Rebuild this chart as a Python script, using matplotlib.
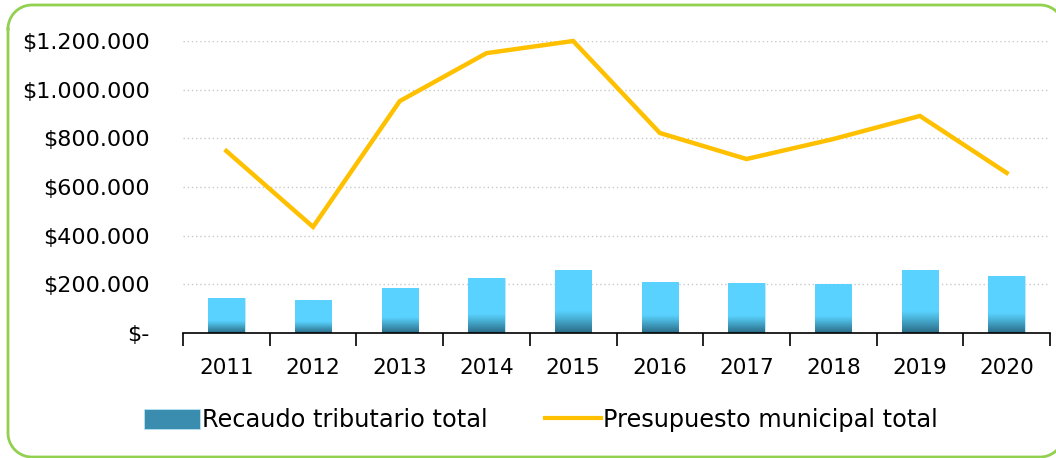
import matplotlib
matplotlib.use("Agg")
import matplotlib.pyplot as plt
import numpy as np
from matplotlib.patches import Patch
from matplotlib.lines import Line2D
from matplotlib.colors import LinearSegmentedColormap
from matplotlib.ticker import FuncFormatter

years = ["2011", "2012", "2013", "2014", "2015", "2016", "2017", "2018", "2019", "2020"]
recaudo = [144000, 135000, 185000, 226000, 259000, 210000, 205000, 200000, 258000, 233000]
presupuesto = [748000, 436000, 953000, 1150000, 1200000, 822000, 715000, 797000, 892000, 658000]
yticks = [0, 200000, 400000, 600000, 800000, 1000000, 1200000]

plt.rcParams['font.family'] = ['DejaVu Sans']
W, H = 1056, 458
fig = plt.figure(figsize=(W / 100, H / 100), dpi=100)

# rounded green border, drawn in a pixel-coordinate overlay axes (y downwards)
bg = fig.add_axes([0, 0, 1, 1], zorder=-1)
bg.set_xlim(0, W)
bg.set_ylim(H, 0)
bg.axis("off")
L, T, R, B, rad = 8, 5, 1064, 457, 24
def corner(cx, cy, a0, a1):
    t = np.linspace(np.radians(a0), np.radians(a1), 30)
    return cx + rad * np.cos(t), cy + rad * np.sin(t)
pts = [corner(L + rad, T + rad, 180, 270), corner(R - rad, T + rad, 270, 360),
       corner(R - rad, B - rad, 0, 90), corner(L + rad, B - rad, 90, 180)]
bx = np.concatenate([p[0] for p in pts] + [pts[0][0][:1]])
by = np.concatenate([p[1] for p in pts] + [pts[0][1][:1]])
bg.plot(bx, by, color="#92D050", linewidth=2, clip_on=False)

ax = fig.add_axes([183 / W, 1 - 333 / H, 867 / W, 292 / H])
x = np.arange(len(years))
bars = ax.bar(x, recaudo, width=0.42, color="#5AD2FF", edgecolor="#BDEBFA", linewidth=0.6, zorder=2)

cmap = LinearSegmentedColormap.from_list("g", [(0, "#2A6A86"), (0.25, "#4CB8DE"), (0.35, "#5AD2FF"), (1, "#5AD2FF")])
grad = np.linspace(0, 1, 256).reshape(-1, 1)
for b in bars:
    x0, y0, w, h = b.get_x(), b.get_y(), b.get_width(), b.get_height()
    im = ax.imshow(grad, cmap=cmap, origin="lower", aspect="auto",
                   extent=[x0, x0 + w, y0, y0 + h], zorder=2.5)
    im.set_clip_path(b)

ax.plot(x, presupuesto, color="#FFC000", linewidth=3.2, zorder=3, clip_on=False,
        solid_joinstyle="miter")

ax.set_xlim(-0.5, len(years) - 0.5)
ax.set_ylim(0, 1200000)
ax.set_yticks(yticks)
ax.yaxis.set_major_formatter(FuncFormatter(
    lambda v, p: "$-" if v == 0 else "$" + f"{int(v):,}".replace(",", ".")))
ax.set_xticks(x)
ax.set_xticklabels(years)
ax.set_xticks(np.arange(-0.5, len(years)), minor=True)
ax.tick_params(axis="x", which="major", length=0, pad=18, labelsize=15.5)
ax.tick_params(axis="x", which="minor", length=9, width=1.2, color="black")
ax.tick_params(axis="y", length=0, pad=24, labelsize=16)
for s in ["top", "right", "left"]:
    ax.spines[s].set_visible(False)
ax.spines["bottom"].set_linewidth(1.2)
ax.spines["bottom"].set_zorder(4)
ax.grid(axis="y", color="#C8C8C8", linestyle=(0, (1, 2)), linewidth=1)
ax.set_axisbelow(True)

handles = [Patch(facecolor="#3A8DAE", edgecolor="#BDEBFA", linewidth=0.5),
           Line2D([0], [0], color="#FFC000", linewidth=3)]
fig.legend(handles, ["Recaudo tributario total", "Presupuesto municipal total"],
           loc="center", bbox_to_anchor=(541 / W, 1 - 420 / H), ncol=2, frameon=False,
           fontsize=17.3, handlelength=2.3, handletextpad=0.1, columnspacing=2.4,
           handleheight=0.9)

fig.savefig("out.png", dpi=100)
